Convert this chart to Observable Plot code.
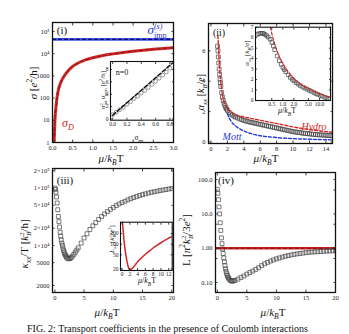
<!DOCTYPE html>
<html><head><meta charset="utf-8">
<script src="https://cdn.jsdelivr.net/npm/d3@7"></script>
<script src="https://cdn.jsdelivr.net/npm/@observablehq/plot@0.6"></script>
<style>
body{margin:0;background:#fff;}
#fig{position:relative;width:349px;height:334px;overflow:hidden;font-family:"Liberation Serif","DejaVu Serif",serif;background:#fff;color:#111;}
#fig svg{position:absolute;left:0;top:0;}
.lab{position:absolute;white-space:nowrap;transform:translate(-50%,-50%);line-height:1;}
.rot{transform:translate(-50%,-50%) rotate(-90deg);}
.lab sub,.lab sup{font-size:68%;line-height:0;}
.stk{display:inline-block;vertical-align:-0.45em;line-height:1.02;font-size:62%;text-align:left;}
.cap{position:absolute;white-space:nowrap;line-height:1;}
</style></head><body><div id="fig"></div>
<script>
// ---------- Panel (i): conductivity ----------
const muI = [0.04,0.05,0.06,0.08,0.1,0.12,0.15,0.2,0.25,0.3,0.4,0.5,0.6,0.8,1.0,1.25,1.5,1.75,2.0,2.25,2.5,2.75,3.0];
const sigmaD = [1,3,10,30,70,130,250,480,750,1050,1800,2700,3500,5100,6600,8300,9800,11300,12800,14300,15800,17200,18500];
const muImp = [0,3];
const sigmaImp = [44000,44000];
const xTicksI = [0,0.5,1,1.5,2,2.5,3];
const xLabelsI = ["0.0","0.5","1.0","1.5","2.0","2.5","3.0"];
const yTicksI = [1,10,100,1000,1e4,1e5];
const yLabelsI = ["1","10","100","1000","10⁴","10⁵"];
// inset (i)
const sigInt = [0,0.05,0.1,0.15,0.2,0.25,0.3,0.35,0.4,0.45,0.5,0.55,0.6,0.65,0.7,0.75,0.8];
const sigProd = [0.7,1.1,1.5,1.9,2.4,2.8,3.3,3.7,4.2,4.6,5.1,5.6,6.1,6.6,7.1,7.6,8.2];
const sigFitX = [0,0.85];
const sigFitY = [0.6,9.2];
const xTicksIa = [0,0.2,0.4,0.6,0.8];
const xLabelsIa = ["0.0","0.2","0.4","0.6","0.8"];
const yTicksIa = [0,2,4,6,8];
const yLabelsIa = ["0","2","4","6","8"];

// ---------- Panel (ii): thermopower ----------
const muAlpha = [0.8,0.85,0.9,0.95,1.0,1.05,1.1,1.15,1.2,1.3,1.4,1.5,1.6,1.7,1.8,1.9,2.0,2.2,2.4,2.6,2.8,3.0,3.25,3.5,3.75,4.0,4.25,4.5,4.75,5.0,5.25,5.5,5.75,6.0,6.25,6.5,6.75,7.0,7.25,7.5,7.75,8.0,8.25,8.5,8.75,9.0,9.25,9.5,9.75,10.0,10.25,10.5,10.75,11.0,11.25,11.5,11.75,12.0,12.25,12.5,12.75,13.0,13.25,13.5,13.75,14.0,14.25,14.5,14.75];
const alphaNum = [6.3,6.0,5.6,5.2,4.8,4.45,4.15,3.9,3.65,3.25,2.95,2.72,2.54,2.39,2.27,2.17,2.08,1.95,1.85,1.77,1.7,1.64,1.58,1.52,1.47,1.42,1.38,1.34,1.31,1.28,1.25,1.22,1.19,1.16,1.13,1.1,1.07,1.04,1.01,0.98,0.95,0.92,0.89,0.86,0.83,0.8,0.77,0.74,0.71,0.68,0.66,0.64,0.62,0.6,0.58,0.56,0.55,0.53,0.52,0.5,0.49,0.48,0.47,0.46,0.45,0.44,0.43,0.42,0.41];
const muHydro = [0.85,0.9,0.95,1.0,1.1,1.2,1.3,1.4,1.6,1.8,2.0,2.5,3,4,5,6,7,8,9,10,11,12,13,14,14.8];
const alphaHydro = [7.0,6.4,5.8,5.3,4.5,3.9,3.45,3.1,2.65,2.38,2.2,1.95,1.8,1.65,1.54,1.43,1.32,1.21,1.1,0.99,0.9,0.82,0.75,0.68,0.64];
const muMott = [2,2.25,2.5,3,3.5,4,5,6,7,8,9,10,12,14,14.8];
const alphaMott = [1.86,1.55,1.33,1.05,0.87,0.72,0.53,0.41,0.34,0.29,0.25,0.22,0.18,0.15,0.14];
const xTicksII = [0,2,4,6,8,10,12,14];
const xLabelsII = ["0","2","4","6","8","10","12","14"];
const yTicksII = [0,2,4,6];
const yLabelsII = ["0","2","4","6"];
// inset (ii)
const muAlphaIn = [0.2,0.22,0.25,0.28,0.3,0.33,0.36,0.4,0.45,0.5,0.55,0.6,0.7,0.8,0.9,1.0,1.1,1.2,1.4,1.6,1.8,2.0,2.3,2.6,3.0,3.5,4.0,4.6,5.3,6,7,8,9,10.6,12,14,16,18];
const alphaIn = [6.3,6.38,6.42,6.42,6.38,6.3,6.2,6.05,5.85,5.55,5.2,4.85,4.25,3.8,3.45,3.15,2.95,2.75,2.45,2.2,2.02,1.88,1.7,1.56,1.42,1.28,1.18,1.08,0.97,0.87,0.76,0.66,0.58,0.48,0.4,0.3,0.22,0.15];
const muHydroIn = [0.46,0.5,0.6,0.7,0.8,0.9,1.0,1.2,1.5,2,2.5,3,4,5,6,7,8,10,12,14,17,20];
const alphaHydroIn = [7.0,6.4,5.4,4.7,4.2,3.85,3.55,3.05,2.6,2.1,1.8,1.58,1.3,1.12,0.98,0.87,0.78,0.64,0.54,0.46,0.38,0.32];
const xTicksIIa = [0.5,1,2,5,10];
const xLabelsIIa = ["0.5","1.0","2.0","5.0","10.0"];
const yTicksIIa = [0,1,2,3,4,5,6,7];
const yLabelsIIa = ["0","1","2","3","4","5","6","7"];

// ---------- Panel (iii): thermal conductivity ----------
const muKappa = [0,0.1,0.2,0.3,0.4,0.5,0.6,0.7,0.8,0.9,1.0,1.1,1.2,1.3,1.4,1.5,1.6,1.7,1.8,1.9,2.0,2.2,2.4,2.6,2.8,3.0,3.25,3.5,3.75,4.0,4.5,5.0,5.5,6.0,6.5,7.0,7.5,8.0,8.5,9,9.5,10,10.5,11,11.5,12,12.5,13,13.5,14,14.5,15,15.5,16,16.5,17,17.5,18,18.5,19,19.5,20];
const kappa = [100000,95000,85000,70000,55000,42000,32000,26000,21000,17000,14500,12500,11000,10000,9000,8200,7600,7100,6800,6500,6200,5950,5850,5900,6150,6500,7000,7600,8300,9100,11000,13500,16000,19000,22000,25000,28500,32000,35500,39000,42500,46000,49500,53000,56000,59000,62500,65500,68500,71500,74500,77000,79500,82000,84500,86500,88500,90500,92500,94500,96500,98500];
const xTicksIII = [0,5,10,15,20];
const xLabelsIII = ["0","5","10","15","20"];
const yTicksIII = [2000,5000,1e4,2e4,5e4,1e5,2e5];
const yLabelsIII = ["2000","5000","1×10⁴","2×10⁴","5×10⁴","1×10⁵","2×10⁵"];
// inset (iii)
const muLxx = [0,0.25,0.5,0.75,1,1.25,1.5,1.75,2,2.25,2.5,3,3.5,4,5,6,7,8,9,10,11,12,12.9];
const Lxx = [600,260,130,75,48,33,25,20.5,19,19.2,20,23,27,32,41,52,64,78,93,110,128,148,165];
const xTicksIIIa = [0,2,4,6,8,10,12];
const xLabelsIIIa = ["0","2","4","6","8","10","12"];
const yTicksIIIa = [20,50,100,200];
const yLabelsIIIa = ["20","50","100","200"];

// ---------- Panel (iv): Lorenz ratio ----------
const muL = [0,0.1,0.2,0.3,0.4,0.5,0.6,0.7,0.8,0.9,1.0,1.1,1.2,1.3,1.4,1.5,1.6,1.7,1.8,1.9,2.0,2.2,2.4,2.6,2.8,3.0,3.5,4.0,4.5,5,5.5,6,6.5,7,7.5,8,8.5,9,9.5,10,10.5,11,11.5,12,12.5,13,13.5,14,14.5,15,15.5,16,16.5,17,17.5,18,18.5,19,19.5,20];
const Lnum = [52,40,26,16,10,5.5,3.3,2.0,1.35,0.95,0.7,0.52,0.4,0.31,0.25,0.21,0.18,0.16,0.145,0.135,0.125,0.115,0.11,0.11,0.112,0.115,0.125,0.14,0.155,0.175,0.195,0.215,0.24,0.27,0.31,0.35,0.385,0.42,0.455,0.49,0.52,0.55,0.58,0.61,0.635,0.66,0.68,0.7,0.72,0.74,0.755,0.77,0.78,0.79,0.8,0.81,0.82,0.83,0.835,0.84];
const muWF = [-1,21];
const LWF = [1,1];
const xTicksIV = [0,5,10,15,20];
const xLabelsIV = ["0","5","10","15","20"];
const yTicksIV = [0.1,0.5,1,5,10,50,100];
const yLabelsIV = ["0.10","0.50","1.00","5.0","10.0","50.0","100.0"];

// ---------- helpers ----------
const W = 349, H = 334;
const fig = document.getElementById("fig");
const pts = (xs, ys) => xs.map((x, i) => ({x, y: ys[i]}));
const fmt = (ticks, labels) => d => {
  const i = ticks.findIndex(t => Math.abs(t - d) <= 1e-9 * Math.max(1, Math.abs(t)));
  return i < 0 ? "" : labels[i];
};
function panel(o) {
  const marks = [];
  if (o.bg) marks.push(Plot.frame({fill: "white", stroke: null}));
  marks.push(...o.marks);
  marks.push(
    Plot.axisX({ticks: o.xTicks, tickFormat: fmt(o.xTicks, o.xLabels), tickSize: 0, tickPadding: o.pad, label: null, fill: "#222"}),
    Plot.axisY({ticks: o.yTicks, tickFormat: fmt(o.yTicks, o.yLabels), tickSize: 0, tickPadding: o.pad, label: null, fill: "#222"}),
    Plot.axisX({ticks: o.xTicks, tickSize: -o.ts, fill: "none", label: null, strokeWidth: 0.8}),
    Plot.axisX({anchor: "top", ticks: o.xTicks, tickSize: -o.ts, fill: "none", label: null, strokeWidth: 0.8}),
    Plot.axisY({ticks: o.yTicks, tickSize: -o.ts, fill: "none", label: null, strokeWidth: 0.8}),
    Plot.axisY({anchor: "right", ticks: o.yTicks, tickSize: -o.ts, fill: "none", label: null, strokeWidth: 0.8}),
    Plot.frame({stroke: "#111", strokeWidth: o.fw})
  );
  const svg = Plot.plot({
    width: W, height: H,
    marginLeft: o.f[0], marginRight: W - o.f[1], marginTop: o.f[2], marginBottom: H - o.f[3],
    x: o.x, y: o.y,
    style: `font-family:'Liberation Serif',serif;font-size:${o.fs}px;background:transparent;overflow:visible;`,
    marks
  });
  fig.appendChild(svg);
}
function lab(html, x, y, size, opt = {}) {
  const d = document.createElement("div");
  d.className = "lab" + (opt.rot ? " rot" : "");
  d.style.left = x + "px"; d.style.top = y + "px"; d.style.fontSize = size + "px";
  if (opt.color) d.style.color = opt.color;
  if (opt.italic) d.style.fontStyle = "italic";
  d.innerHTML = html;
  fig.appendChild(d);
}
const sq = {symbol: "square", r: 2.2, stroke: "#444", strokeWidth: 0.7, fill: "none", clip: true};

// ---------- Panel (i) ----------
panel({
  f: [52, 173, 22, 142], fs: 6.5, pad: 3, ts: 2.5, fw: 1.3,
  x: {domain: [0, 3]}, y: {type: "log", domain: [1, 2.54e5]},
  xTicks: xTicksI, xLabels: xLabelsI, yTicks: yTicksI, yLabels: yLabelsI,
  marks: [
    Plot.line(pts(muImp, sigmaImp), {x: "x", y: "y", stroke: "#3b4fe0", strokeWidth: 2.6, clip: true}),
    Plot.line(pts(muImp, sigmaImp), {x: "x", y: "y", stroke: "#0a0a70", strokeWidth: 1.2, strokeDasharray: "3,3", clip: true}),
    Plot.line(pts(muI, sigmaD), {x: "x", y: "y", stroke: "#d42626", strokeWidth: 3, clip: true, curve: "monotone-x"}),
    Plot.line(pts(muI, sigmaD), {x: "x", y: "y", stroke: "#7a1a1a", strokeWidth: 1, strokeDasharray: "3,3", clip: true, curve: "monotone-x"})
  ]
});
// inset (i)
panel({
  f: [110, 173, 61, 119.7], fs: 5.5, pad: 2, ts: 2, fw: 1.1, bg: true,
  x: {domain: [-0.03, 0.85]}, y: {domain: [-0.2, 9.3]},
  xTicks: xTicksIa, xLabels: xLabelsIa, yTicks: yTicksIa, yLabels: yLabelsIa,
  marks: [
    Plot.dot(pts(sigInt, sigProd), {x: "x", y: "y", r: 1.9, stroke: "#555", strokeWidth: 0.6, fill: "none", clip: true}),
    Plot.line(pts(sigFitX, sigFitY), {x: "x", y: "y", stroke: "#111", strokeWidth: 1.4, strokeDasharray: "4,2", clip: true})
  ]
});

// ---------- Panel (ii) ----------
panel({
  f: [208, 332, 23, 143], fs: 6.5, pad: 3, ts: 2.5, fw: 1.3,
  x: {domain: [-0.3, 14.8]}, y: {domain: [-0.1, 7.8]},
  xTicks: xTicksII, xLabels: xLabelsII, yTicks: yTicksII, yLabels: yLabelsII,
  marks: [
    Plot.dot(pts(muAlpha, alphaNum), {x: "x", y: "y", ...sq}),
    Plot.line(pts(muHydro, alphaHydro), {x: "x", y: "y", stroke: "#d42626", strokeWidth: 1.4, strokeDasharray: "3,2", clip: true, curve: "monotone-x"}),
    Plot.line(pts(muMott, alphaMott), {x: "x", y: "y", stroke: "#2a3ad8", strokeWidth: 1.4, strokeDasharray: "3,2", clip: true, curve: "monotone-x"})
  ]
});
// inset (ii)
panel({
  f: [255, 330, 26.7, 100], fs: 5.5, pad: 2, ts: 2, fw: 1.1, bg: true,
  x: {type: "log", domain: [0.18, 20]}, y: {domain: [0, 7]},
  xTicks: xTicksIIa, xLabels: xLabelsIIa, yTicks: yTicksIIa, yLabels: yLabelsIIa,
  marks: [
    Plot.dot(pts(muAlphaIn, alphaIn), {x: "x", y: "y", ...sq, r: 2}),
    Plot.line(pts(muHydroIn, alphaHydroIn), {x: "x", y: "y", stroke: "#d42626", strokeWidth: 1.2, strokeDasharray: "3,2", clip: true, curve: "monotone-x"})
  ]
});

// ---------- Panel (iii) ----------
panel({
  f: [52, 173, 168, 292], fs: 6.5, pad: 3, ts: 2.5, fw: 1.3,
  x: {domain: [-0.4, 20.3]}, y: {type: "log", domain: [1510, 2.2e5]},
  xTicks: xTicksIII, xLabels: xLabelsIII, yTicks: yTicksIII, yLabels: yLabelsIII,
  marks: [
    Plot.dot(pts(muKappa, kappa), {x: "x", y: "y", ...sq})
  ]
});
// inset (iii)
panel({
  f: [120, 171.7, 221.7, 270], fs: 5.5, pad: 2, ts: 2, fw: 1.1, bg: true,
  x: {domain: [-0.4, 12.9]}, y: {type: "log", domain: [18, 420]},
  xTicks: xTicksIIIa, xLabels: xLabelsIIIa, yTicks: yTicksIIIa, yLabels: yLabelsIIIa,
  marks: [
    Plot.line(pts(muLxx, Lxx), {x: "x", y: "y", stroke: "#d42626", strokeWidth: 1.5, clip: true, curve: "monotone-x"})
  ]
});

// ---------- Panel (iv) ----------
panel({
  f: [215, 335, 172, 292], fs: 6.5, pad: 3, ts: 2.5, fw: 1.3,
  x: {domain: [-0.3, 20]}, y: {type: "log", domain: [0.051, 161]},
  xTicks: xTicksIV, xLabels: xLabelsIV, yTicks: yTicksIV, yLabels: yLabelsIV,
  marks: [
    Plot.line(pts(muWF, LWF), {x: "x", y: "y", stroke: "#d42626", strokeWidth: 2.6, clip: true}),
    Plot.line(pts(muWF, LWF), {x: "x", y: "y", stroke: "#6a1010", strokeWidth: 1, strokeDasharray: "3,3", clip: true}),
    Plot.dot(pts(muL, Lnum), {x: "x", y: "y", ...sq})
  ]
});

// ---------- text labels ----------
const muKT = '<i>μ</i>/<i>k</i><sub><i>B</i></sub>T';
lab("(i)", 62, 30, 11);
lab('<i>σ</i><span class="stk"><i>(s)</i><br>imp</span>', 157, 31, 13, {color: "#2a3ad8"});
lab('<i>σ</i><sub><i>D</i></sub>', 68, 123, 12, {color: "#d42626"});
lab("n=0", 122, 73, 8);
lab('<i>σ</i><span class="stk">2<br>int</span> <i>σ</i><sub>min</sub> [<i>e</i><sup>2</sup>/h]', 103.5, 90, 7, {rot: true});
lab('<i>σ</i><sub>int</sub>', 139, 138, 7.5);
lab('<i>σ</i> [<i>e</i><sup>2</sup>/h]', 33, 83, 11, {rot: true});
lab(muKT, 111, 158, 11);

lab("(ii)", 219, 33, 10);
lab("Hydro", 314, 127, 10, {color: "#d42626", italic: true});
lab("Mott", 232, 137, 10, {color: "#2a3ad8", italic: true});
lab('<i>α</i><sub><i>xx</i></sub> [<i>k</i><sub><i>B</i></sub>/<i>e</i>]', 201, 92, 10, {rot: true});
lab('<i>α</i><sub><i>xx</i></sub> [<i>k</i><sub><i>B</i></sub>/<i>e</i>]', 246.5, 53, 7, {rot: true});
lab(muKT, 287, 111, 8);
lab(muKT, 266, 158, 11);

lab("(iii)", 65, 180, 11);
lab('<i>κ</i><sub><i>xx</i></sub>/T [<i>k</i><span class="stk">2<br><i>B</i></span>/h]', 26, 244, 11, {rot: true});
lab('<i>L</i><sub><i>xx</i></sub> [<i>k</i><span class="stk">2<br><i>B</i></span>/<i>e</i><sup>2</sup>]', 113, 239, 7, {rot: true});
lab(muKT, 147, 281, 8);
lab(muKT, 107, 312, 11);

lab("(iv)", 226, 180, 11);
lab('L [<i>π</i><sup>2</sup><i>k</i><span class="stk">2<br><i>B</i></span>/3<i>e</i><sup>2</sup>]', 188, 240, 11, {rot: true});
lab(muKT, 273, 312, 11);

const cap = document.createElement("div");
cap.className = "cap";
cap.style.left = "27px"; cap.style.top = "324px"; cap.style.fontSize = "10px";
cap.textContent = "FIG. 2: Transport coefficients in the presence of Coulomb interactions";
fig.appendChild(cap);
</script></body></html>
